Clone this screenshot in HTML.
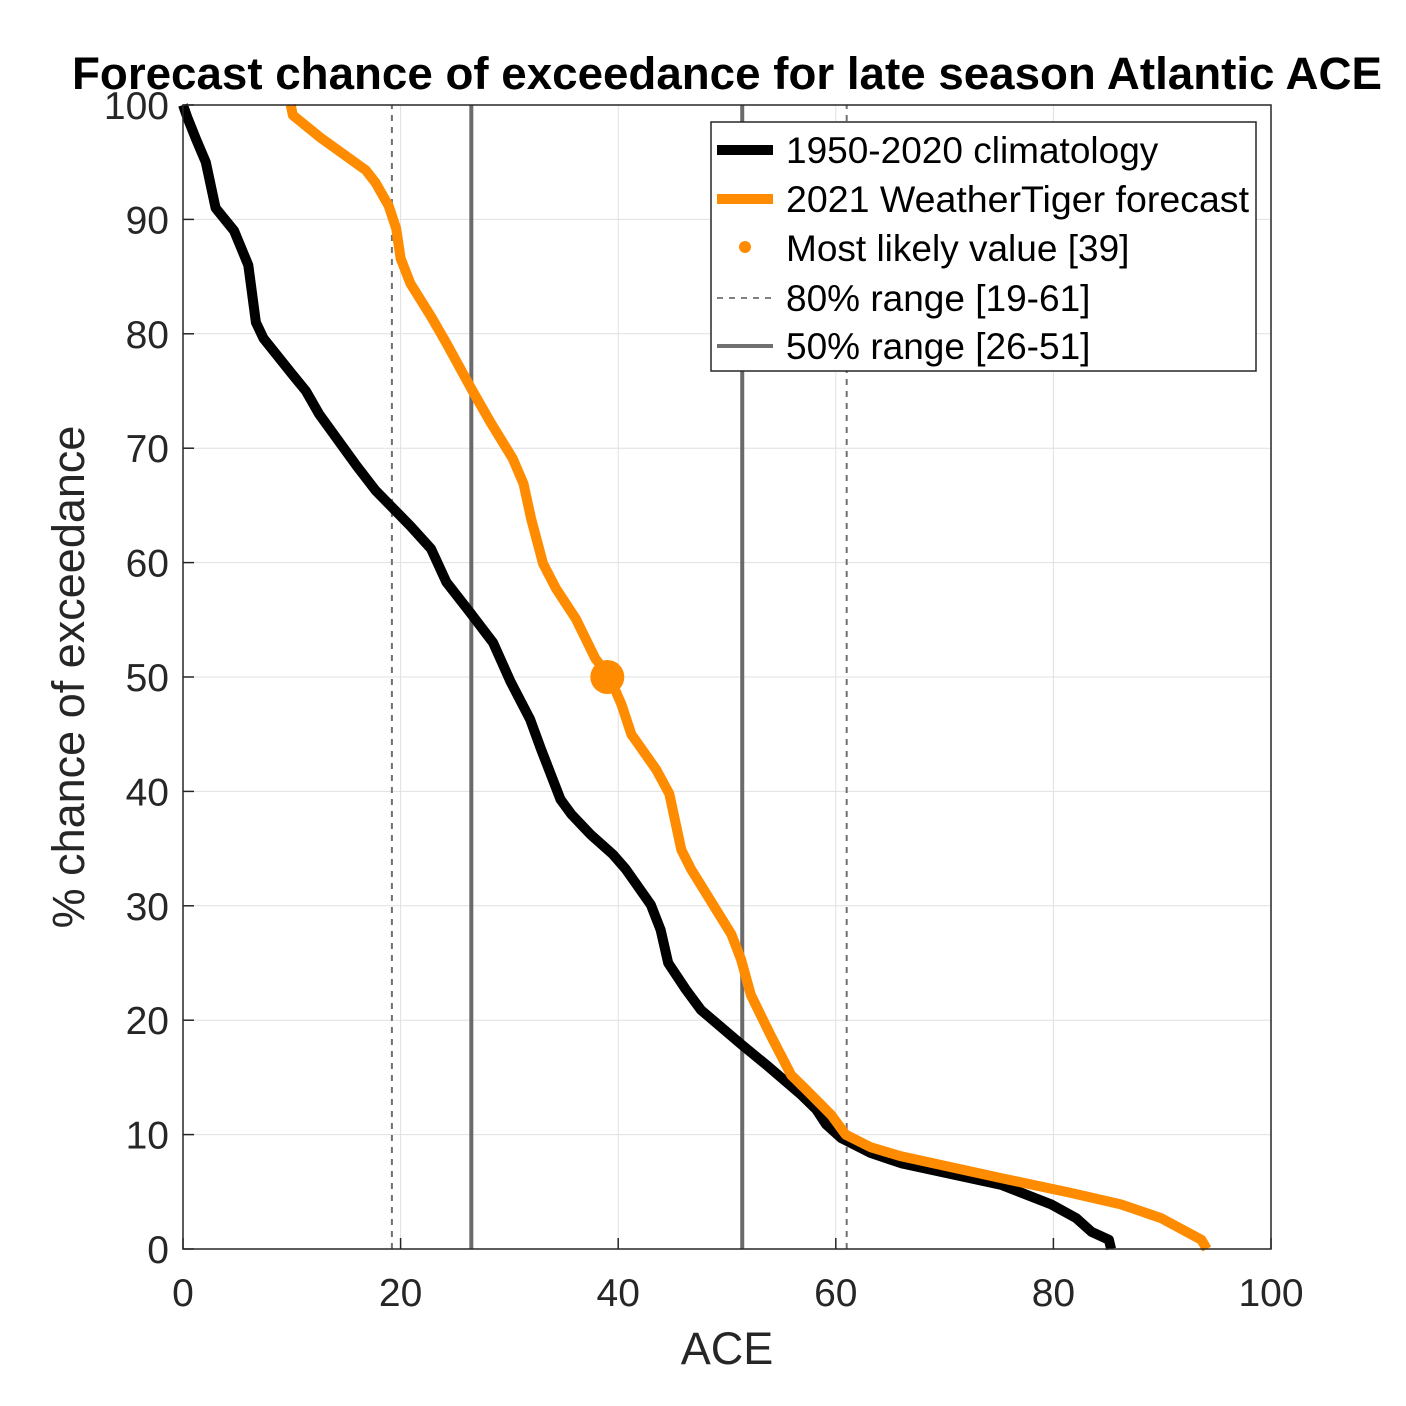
<!DOCTYPE html>
<html><head><meta charset="utf-8"><style>body{margin:0;background:#fff}svg{display:block;font-family:"Liberation Sans",Arial,sans-serif}</style></head>
<body>
<svg id="chart" width="1406" height="1406" viewBox="0 0 1406 1406">
<rect width="1406" height="1406" fill="#fff"/>
<g id="grid"></g>
<g id="vlines"></g>
<g id="series"></g>
<g id="axes"></g>
<text x="727" y="89" text-anchor="middle" font-size="45" font-weight="bold" textLength="1310" lengthAdjust="spacingAndGlyphs">Forecast chance of exceedance for late season Atlantic ACE</text>
<text x="727" y="1364" text-anchor="middle" font-size="45" fill="#262626">ACE</text>
<text transform="translate(84,677) rotate(-90)" text-anchor="middle" font-size="45" fill="#262626">% chance of exceedance</text>
<g>
<rect x="711" y="122" width="545" height="249" fill="#fff" stroke="#262626" stroke-width="1.5"/>
<line x1="717" y1="150" x2="773" y2="150" stroke="#000" stroke-width="10"/>
<text x="786" y="163" font-size="37">1950-2020 climatology</text>
<line x1="717" y1="199" x2="773" y2="199" stroke="#ff8c00" stroke-width="10"/>
<text x="786" y="212" font-size="37" textLength="463" lengthAdjust="spacingAndGlyphs">2021 WeatherTiger forecast</text>
<circle cx="745" cy="247" r="6" fill="#ff8c00"/>
<text x="786" y="261" font-size="37">Most likely value [39]</text>
<line x1="717" y1="298" x2="773" y2="298" stroke="#808080" stroke-width="2" stroke-dasharray="6,6"/>
<text x="786" y="311" font-size="37">80% range [19-61]</text>
<line x1="717" y1="346" x2="773" y2="346" stroke="#707070" stroke-width="4"/>
<text x="786" y="359" font-size="37">50% range [26-51]</text>
</g>
</svg>
<script>
const climACE=[0,0.4,1.2,2.1,3,4.7,6,6.7,7.4,10,11.3,12.5,16,17.7,20.9,22.8,24.2,26.5,28.5,30.1,31.9,32.9,34.7,35.7,37.5,39.5,40.7,43,43.9,44.6,46.2,47.6,51.3,53.6,56.8,58.2,59.1,60.5,63.2,66,75.2,79.8,82.1,83.5,85.1,85.3];
const climPct=[100,98.9,97,95,91,89,86,81,79.6,76.5,75,73,68.4,66.3,63.2,61.2,58.3,55.5,53,49.6,46.3,43.7,39.3,38,36.2,34.5,33.2,30.1,27.9,25,22.7,20.9,17.9,16.1,13.5,12.2,10.9,9.7,8.4,7.5,5.6,3.9,2.7,1.5,0.8,0];
const fcACE=[9.9,10.1,12.7,16.8,17.7,18.9,19.6,20,20.9,22.8,24.2,26.5,28.3,30.3,31.3,32,33.1,34.3,36.1,37.9,39.2,40.3,41.2,43.5,44.7,45.8,46.7,50.4,51.3,52.2,54,55.9,57.3,59.6,60.9,63.2,66,75.2,81.6,86.2,89.9,93.6,94.1];
const fcPct=[100,99.1,97.1,94.3,93.2,91.2,89.2,86.6,84.4,81.5,79.2,75.2,72.2,69.1,66.9,63.8,59.9,57.7,55.1,51.6,50,47.6,45,41.9,39.8,34.9,33.2,27.5,25.3,22.2,18.7,15.2,13.9,11.7,10,8.9,8.1,6.2,4.9,3.9,2.7,0.8,0];
const mostLikely=[39,50];
const range80=[19.2,61];
const range50=[26.5,51.4];
const xTicks=[0,20,40,60,80,100];
const yTicks=[0,10,20,30,40,50,60,70,80,90,100];
const X0=183,X1=1271,Y0=1249,Y1=105;
const sx=v=>X0+(v/100)*(X1-X0), sy=v=>Y0-(v/100)*(Y0-Y1);
const NS='http://www.w3.org/2000/svg';
function mk(p,t,a){const e=document.createElementNS(NS,t);for(const k in a)e.setAttribute(k,a[k]);p.appendChild(e);return e;}
const grid=document.getElementById('grid'),axes=document.getElementById('axes'),vl=document.getElementById('vlines'),ser=document.getElementById('series');
xTicks.forEach(t=>{const l=mk(grid,'line',{x1:sx(t),x2:sx(t),y1:Y0,y2:Y1,stroke:'#e0e0e0','stroke-width':1});


const tk=mk(axes,'line',{x1:sx(t),x2:sx(t),y1:Y0,y2:Y0-11,stroke:'#262626','stroke-width':1.5});


const tx=mk(axes,'text',{x:sx(t),y:Y0+57,'text-anchor':'middle','font-size':39,fill:'#262626'});tx.textContent=t;

});
yTicks.forEach(t=>{const l=mk(grid,'line',{x1:X0,x2:X1,y1:sy(t),y2:sy(t),stroke:'#e0e0e0','stroke-width':1});


const tk=mk(axes,'line',{x1:X0,x2:X0+11,y1:sy(t),y2:sy(t),stroke:'#262626','stroke-width':1.5});


const tx=mk(axes,'text',{x:X0-14,y:sy(t)+14,'text-anchor':'end','font-size':39,fill:'#262626'});tx.textContent=t;

});
const box=mk(axes,'rect',{x:X0,y:Y1,width:X1-X0,height:Y0-Y1,fill:'none',stroke:'#262626','stroke-width':1.5});


range80.forEach(v=>{const l=mk(vl,'line',{x1:sx(v),x2:sx(v),y1:Y0,y2:Y1,stroke:'#707070','stroke-width':2,'stroke-dasharray':'6,6'});

});
range50.forEach(v=>{const l=mk(vl,'line',{x1:sx(v),x2:sx(v),y1:Y0,y2:Y1,stroke:'#6a6a6a','stroke-width':4});

});
function path(xs,ys){return xs.map((v,i)=>(i?'L':'M')+sx(v).toFixed(1)+','+sy(ys[i]).toFixed(1)).join(' ');}
const p1=mk(ser,'path',{d:path(climACE,climPct),fill:'none',stroke:'#000','stroke-width':10,'stroke-linejoin':'round'});


const p2=mk(ser,'path',{d:path(fcACE,fcPct),fill:'none',stroke:'#ff8c00','stroke-width':10,'stroke-linejoin':'round'});


const c=mk(ser,'circle',{cx:sx(mostLikely[0]),cy:sy(mostLikely[1]),r:17,fill:'#ff8c00'});


</script>
</body></html>
